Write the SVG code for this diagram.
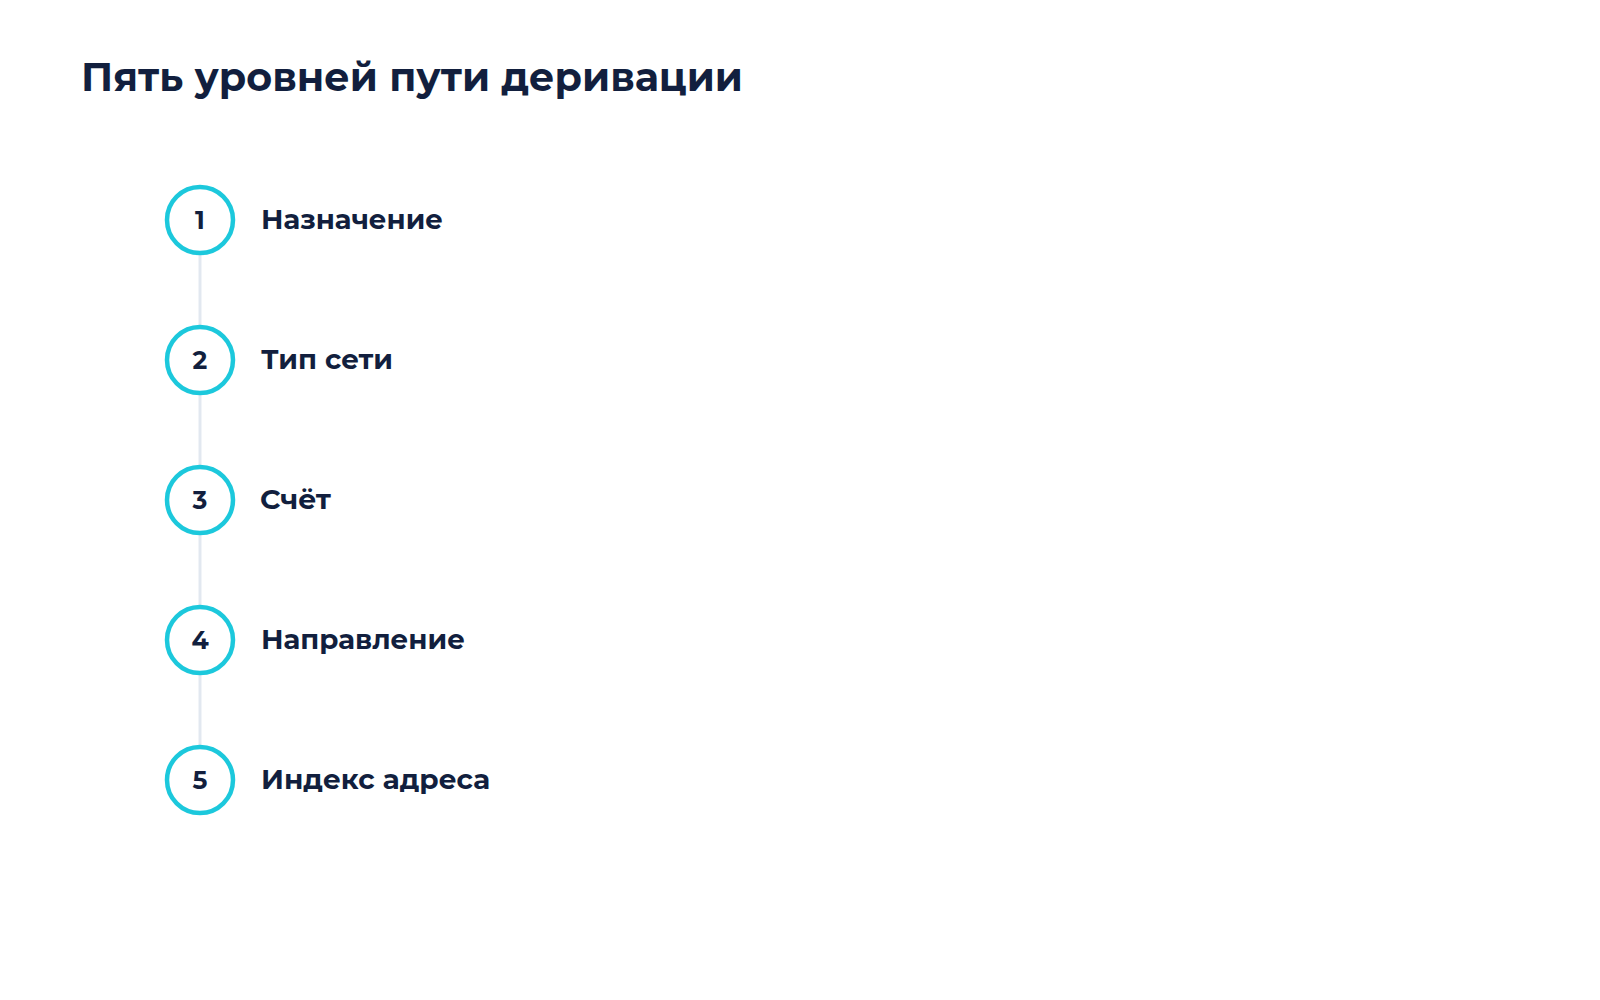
<svg xmlns="http://www.w3.org/2000/svg" width="1600" height="1000" viewBox="0 0 1600 1000">
<style>
.title{font-family:"Montserrat","Noto Sans","Liberation Sans",sans-serif;font-weight:700;font-size:40px;fill:#121f3e}
.num{font-family:"Montserrat","Noto Sans","Liberation Sans",sans-serif;font-weight:700;font-size:25px;fill:#121f3e;text-anchor:middle}
.lbl{font-family:"Montserrat","Noto Sans","Liberation Sans",sans-serif;font-weight:700;font-size:27px;fill:#121f3e}
.ring{fill:#ffffff;stroke:#1cc8dc;stroke-width:4.5}
.conn{stroke:#e2e8f0;stroke-width:3;fill:none}
</style>
<rect width="1600" height="1000" fill="#ffffff"/>
<text class="title" x="81" y="91" textLength="662" lengthAdjust="spacingAndGlyphs">Пять уровней пути деривации</text>
<g id="connectors">
<line class="conn" x1="200" y1="255" x2="200" y2="325"/>
<line class="conn" x1="200" y1="395" x2="200" y2="465"/>
<line class="conn" x1="200" y1="535" x2="200" y2="605"/>
<line class="conn" x1="200" y1="675" x2="200" y2="745"/>
</g>
<g id="node1">
<circle class="ring" cx="200" cy="220" r="33"/>
<text class="num" x="200" y="229">1</text>
<text class="lbl" x="261" y="229" textLength="182" lengthAdjust="spacingAndGlyphs">Назначение</text>
</g>
<g id="node2">
<circle class="ring" cx="200" cy="360" r="33"/>
<text class="num" x="200" y="369">2</text>
<text class="lbl" x="261" y="369" textLength="132" lengthAdjust="spacingAndGlyphs">Тип сети</text>
</g>
<g id="node3">
<circle class="ring" cx="200" cy="500" r="33"/>
<text class="num" x="200" y="509">3</text>
<text class="lbl" x="260" y="509" textLength="71" lengthAdjust="spacingAndGlyphs">Счёт</text>
</g>
<g id="node4">
<circle class="ring" cx="200" cy="640" r="33"/>
<text class="num" x="200" y="649">4</text>
<text class="lbl" x="261" y="649" textLength="204" lengthAdjust="spacingAndGlyphs">Направление</text>
</g>
<g id="node5">
<circle class="ring" cx="200" cy="780" r="33"/>
<text class="num" x="200" y="789">5</text>
<text class="lbl" x="261" y="789" textLength="229" lengthAdjust="spacingAndGlyphs">Индекс адреса</text>
</g>
</svg>
